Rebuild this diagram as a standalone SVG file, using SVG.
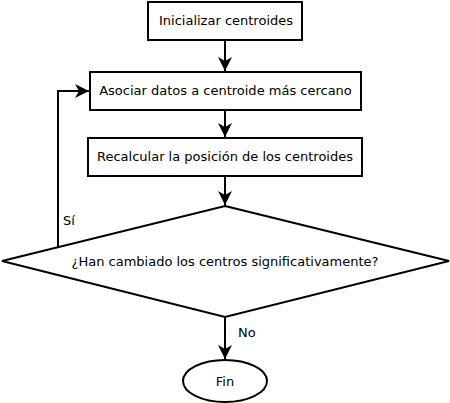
<svg xmlns="http://www.w3.org/2000/svg" width="450" height="403" viewBox="0 0 450 403">
<style>
.n{fill:#fff;stroke:#000;stroke-width:2}
.t{font-family:"DejaVu Sans",sans-serif;font-size:13px;fill:#000;text-anchor:middle;dominant-baseline:central}
.l{font-family:"DejaVu Sans",sans-serif;font-size:13px;fill:#000;dominant-baseline:central}
.c{fill:none;stroke:#000;stroke-width:2}
</style>
<defs>
<marker id="a" markerUnits="userSpaceOnUse" markerWidth="16" markerHeight="16" refX="14" refY="7" orient="auto" overflow="visible">
<path d="M14,7 L0,0 L4,7 L0,14 Z" fill="#000"/>
</marker>
</defs>
<g id="connectors">
<line class="c" x1="225" y1="40" x2="225" y2="71" marker-end="url(#a)"/>
<line class="c" x1="225" y1="110" x2="225" y2="137" marker-end="url(#a)"/>
<line class="c" x1="225" y1="176" x2="225" y2="205" marker-end="url(#a)"/>
<polyline class="c" points="58,247 58,91 89,91" marker-end="url(#a)"/>
<line class="c" x1="225" y1="317" x2="225" y2="359" marker-end="url(#a)"/>
<text class="l" x="63" y="220">Sí</text>
<text class="l" x="238" y="332.5">No</text>
</g>
<g id="init">
<rect class="n" x="148" y="2" width="154" height="38"/>
<text class="t" x="226" y="20.5">Inicializar centroides</text>
</g>
<g id="asociar">
<rect class="n" x="90" y="72" width="271" height="38"/>
<text class="t" x="225.5" y="90.5">Asociar datos a centroide más cercano</text>
</g>
<g id="recalcular">
<rect class="n" x="88" y="138" width="274" height="38"/>
<text class="t" x="225" y="156.5">Recalcular la posición de los centroides</text>
</g>
<g id="decision">
<polygon class="n" points="225,206 449,261 225,317 2,261"/>
<text class="t" x="225" y="261.5">¿Han cambiado los centros significativamente?</text>
</g>
<g id="fin">
<ellipse class="n" cx="225" cy="381" rx="42" ry="21"/>
<text class="t" x="225" y="381">Fin</text>
</g>
</svg>
